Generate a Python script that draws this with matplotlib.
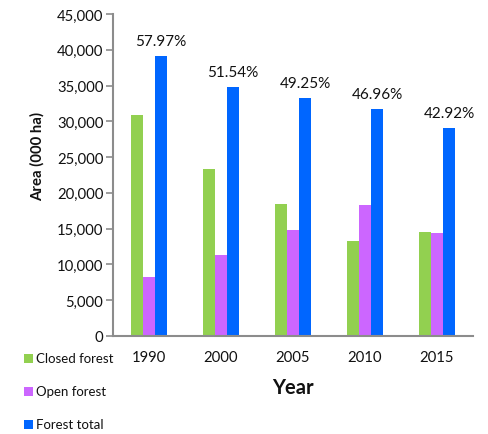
import matplotlib
matplotlib.use("Agg")
import matplotlib.pyplot as plt
from matplotlib.patches import Rectangle
from matplotlib.ticker import FuncFormatter
import numpy as np

years = ["1990", "2000", "2005", "2010", "2015"]
closed_forest = [30900, 23400, 18400, 13300, 14500]
open_forest = [8300, 11300, 14800, 18300, 14400]
forest_total = [39100, 34800, 33200, 31700, 29000]
cover_pct = ["57.97%", "51.54%", "49.25%", "46.96%", "42.92%"]

series_names = ["Closed forest", "Open forest", "Forest total"]
colors = ["#92D050", "#CC66FF", "#0066FF"]

plt.rcParams["font.family"] = ["Lato", "DejaVu Sans"]

W, H = 488, 435
fig = plt.figure(figsize=(W / 100, H / 100), dpi=100)
ax = fig.add_axes([113 / W, 1 - 337 / H, 360 / W, 322 / H])

x = np.arange(len(years))
bw = 1 / 6
for i, (vals, c) in enumerate(zip([closed_forest, open_forest, forest_total], colors)):
    ax.bar(x + (i - 1) * bw, vals, width=bw, color=c, edgecolor="none", zorder=2)

for xi, v, t in zip(x, forest_total, cover_pct):
    ax.annotate(t, (xi + bw, v), xytext=(0, 6), textcoords="offset points",
                ha="center", va="bottom", fontsize=11, color="#111111")

ax.set_xlim(-0.5, len(years) - 0.5)
ax.set_ylim(0, 45000)
ax.set_yticks(np.arange(0, 45001, 5000))
ax.yaxis.set_major_formatter(FuncFormatter(lambda v, p: f"{int(v):,}"))
ax.set_xticks(x)
ax.set_xticklabels(years)

for s in ["top", "right"]:
    ax.spines[s].set_visible(False)
for s in ["left", "bottom"]:
    ax.spines[s].set_color("#8C8C8C")
    ax.spines[s].set_linewidth(1.5)

ax.tick_params(axis="y", direction="out", length=5, width=1.2, color="#8C8C8C",
               pad=2, labelsize=10.7, labelcolor="#111111")
ax.tick_params(axis="x", length=0, pad=10, labelsize=10.7, labelcolor="#111111")

fig.text(37 / W, 1 - 157 / H, "Area (000 ha)", rotation=90, ha="center", va="center",
         fontsize=10.7, fontweight="bold", color="#111111")
fig.text(293 / W, 1 - 388 / H, "Year", ha="center", va="center",
         fontsize=14.5, fontweight="bold", color="#111111")

# legend entries stacked down the lower-left corner
for k, (name, c) in enumerate(zip(series_names, colors)):
    yc = 359 + 33 * k
    fig.patches.append(Rectangle((24 / W, 1 - (yc + 4.5) / H), 9 / W, 9 / H,
                                 transform=fig.transFigure, facecolor=c,
                                 edgecolor="none"))
    fig.text(36 / W, 1 - yc / H, name, ha="left", va="center",
             fontsize=9.5, color="#111111")

fig.savefig("out.png", dpi=100)
